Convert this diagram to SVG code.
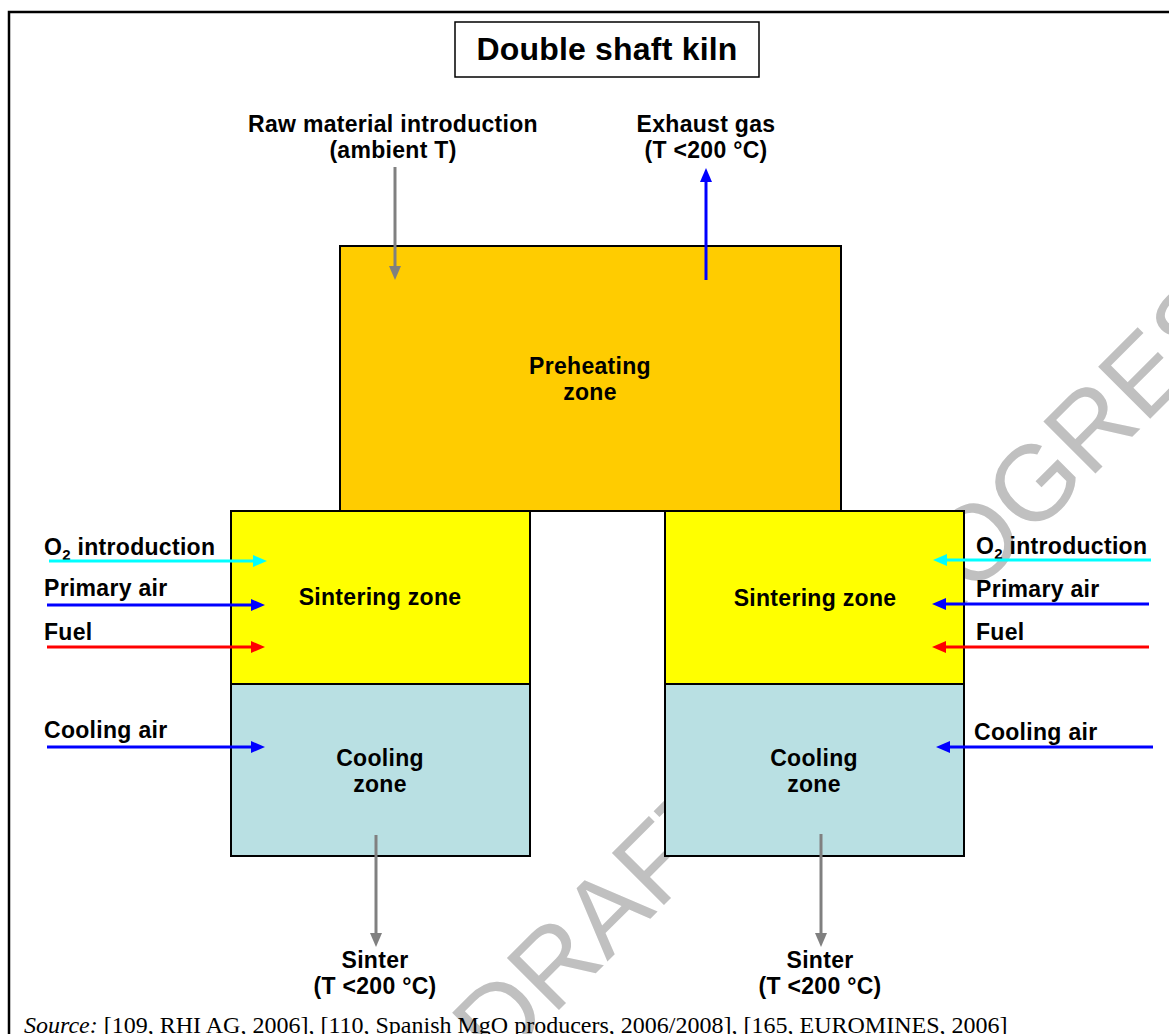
<svg xmlns="http://www.w3.org/2000/svg" width="1169" height="1034" viewBox="0 0 1169 1034">
<style>
  .lbl { font-family: "Liberation Sans", Arial, sans-serif; font-weight: bold; font-size: 23px; fill: #000; letter-spacing: 0.3px; }
  .ctr { text-anchor: middle; }
  .box { stroke: #000; stroke-width: 2; }
  .pre { fill: #FFCC00; }
  .sin { fill: #FFFF00; }
  .cool { fill: #B9E0E3; }
  .ln { fill: none; stroke-width: 3; }
  .gray { stroke: #808080; }
  .blue { stroke: #0000FF; }
  .cyan { stroke: #00FFFF; }
  .red { stroke: #FF0000; }
  .wm { font-family: "Liberation Sans", Arial, sans-serif; font-size: 107px; fill: #C0C0C0; }
  .src { font-family: "Liberation Serif", "Times New Roman", serif; font-size: 24px; fill: #000; }
</style>
<defs>
  <marker id="ah-gray" markerUnits="userSpaceOnUse" markerWidth="14" markerHeight="12" refX="4" refY="6" orient="auto"><path d="M0,0 L14,6 L0,12 z" fill="#808080"/></marker>
  <marker id="ah-blue" markerUnits="userSpaceOnUse" markerWidth="14" markerHeight="12" refX="4" refY="6" orient="auto"><path d="M0,0 L14,6 L0,12 z" fill="#0000FF"/></marker>
  <marker id="ah-cyan" markerUnits="userSpaceOnUse" markerWidth="14" markerHeight="12" refX="4" refY="6" orient="auto"><path d="M0,0 L14,6 L0,12 z" fill="#00FFFF"/></marker>
  <marker id="ah-red" markerUnits="userSpaceOnUse" markerWidth="14" markerHeight="12" refX="4" refY="6" orient="auto"><path d="M0,0 L14,6 L0,12 z" fill="#FF0000"/></marker>
</defs>
<rect x="0" y="0" width="1169" height="1034" fill="#FFFFFF"/>
<rect x="9" y="12" width="1200" height="1100" fill="none" stroke="#000" stroke-width="2.5"/>

<g id="watermark">
  <text class="wm" x="498" y="1071" transform="rotate(-45 498 1071)">DRAFT IN PROGRESS</text>
</g>

<g id="title">
  <rect x="455" y="22" width="304" height="55" fill="#FFFFFF" stroke="#000" stroke-width="1.5"/>
  <text class="lbl ctr" x="607" y="60" style="font-size:32px;letter-spacing:0.2px">Double shaft kiln</text>
</g>

<g id="preheating">
  <rect class="box pre" x="340" y="246" width="501" height="265"/>
  <text class="lbl ctr" x="590" y="374">Preheating</text>
  <text class="lbl ctr" x="590" y="400">zone</text>
</g>
<g id="sintering-left">
  <rect class="box sin" x="231" y="511" width="299" height="173"/>
  <text class="lbl ctr" x="380" y="605">Sintering zone</text>
</g>
<g id="cooling-left">
  <rect class="box cool" x="231" y="684" width="299" height="172"/>
  <text class="lbl ctr" x="380" y="766">Cooling</text>
  <text class="lbl ctr" x="380" y="792">zone</text>
</g>
<g id="sintering-right">
  <rect class="box sin" x="665" y="511" width="299" height="173"/>
  <text class="lbl ctr" x="815" y="606">Sintering zone</text>
</g>
<g id="cooling-right">
  <rect class="box cool" x="665" y="684" width="299" height="172"/>
  <text class="lbl ctr" x="814" y="766">Cooling</text>
  <text class="lbl ctr" x="814" y="792">zone</text>
</g>

<g id="labels">
  <text class="lbl ctr" x="393" y="132">Raw material introduction</text>
  <text class="lbl ctr" x="393" y="158">(ambient T)</text>
  <text class="lbl ctr" x="706" y="132">Exhaust gas</text>
  <text class="lbl ctr" x="706" y="158">(T &lt;200 °C)</text>

  <text class="lbl" x="44" y="555">O<tspan dy="5" style="font-size:15px">2</tspan><tspan dy="-5"> introduction</tspan></text>
  <text class="lbl" x="44" y="596">Primary air</text>
  <text class="lbl" x="44" y="640">Fuel</text>
  <text class="lbl" x="44" y="738">Cooling air</text>

  <text class="lbl" x="976" y="554">O<tspan dy="5" style="font-size:15px">2</tspan><tspan dy="-5"> introduction</tspan></text>
  <text class="lbl" x="976" y="597">Primary air</text>
  <text class="lbl" x="976" y="640">Fuel</text>
  <text class="lbl" x="974" y="740">Cooling air</text>

  <text class="lbl ctr" x="375" y="968">Sinter</text>
  <text class="lbl ctr" x="375" y="994">(T &lt;200 °C)</text>
  <text class="lbl ctr" x="820" y="968">Sinter</text>
  <text class="lbl ctr" x="820" y="994">(T &lt;200 °C)</text>
</g>

<g id="connectors">
  <line class="ln gray" x1="395" y1="167" x2="395" y2="270" marker-end="url(#ah-gray)"/>
  <line class="ln blue" x1="706" y1="280" x2="706" y2="178" marker-end="url(#ah-blue)"/>

  <line class="ln cyan" x1="49" y1="561" x2="257" y2="561" marker-end="url(#ah-cyan)"/>
  <line class="ln blue" x1="47" y1="605" x2="255" y2="605" marker-end="url(#ah-blue)"/>
  <line class="ln red" x1="47" y1="647" x2="255" y2="647" marker-end="url(#ah-red)"/>
  <line class="ln blue" x1="47" y1="747" x2="255" y2="747" marker-end="url(#ah-blue)"/>

  <line class="ln cyan" x1="1151" y1="560" x2="943" y2="560" marker-end="url(#ah-cyan)"/>
  <line class="ln blue" x1="1149" y1="604" x2="942" y2="604" marker-end="url(#ah-blue)"/>
  <line class="ln red" x1="1149" y1="647" x2="942" y2="647" marker-end="url(#ah-red)"/>
  <line class="ln blue" x1="1153" y1="747" x2="946" y2="747" marker-end="url(#ah-blue)"/>

  <line class="ln gray" x1="376" y1="835" x2="376" y2="937" marker-end="url(#ah-gray)"/>
  <line class="ln gray" x1="821" y1="834" x2="821" y2="937" marker-end="url(#ah-gray)"/>
</g>

<g id="source">
  <text class="src" x="24" y="1033"><tspan font-style="italic">Source:</tspan> [109, RHI AG, 2006], [110, Spanish MgO producers, 2006/2008], [165, EUROMINES, 2006]</text>
</g>
</svg>
